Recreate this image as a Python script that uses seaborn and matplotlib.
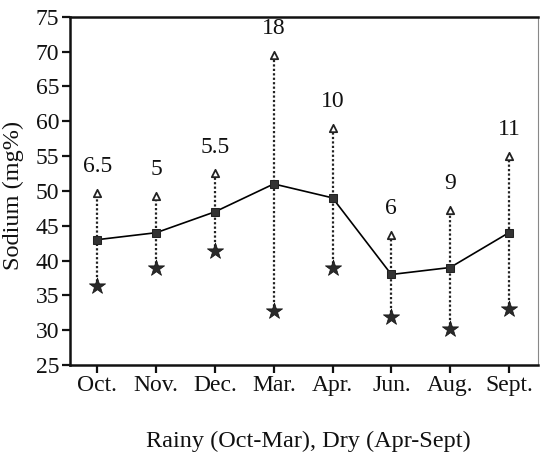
import numpy as np
import pandas as pd
import matplotlib
matplotlib.use("Agg")
import matplotlib.pyplot as plt
import seaborn as sns

months = ["Oct.", "Nov.", "Dec.", "Mar.", "Apr.", "Jun.", "Aug.", "Sept."]
mean_vals = [43, 44, 47, 51, 49, 38, 39, 44]
min_vals = [36.3, 39, 41.3, 32.8, 39, 31.9, 30.2, 33]
max_vals = [49.7, 49.3, 52.5, 69.5, 59, 43.7, 47.3, 55]
labels = ["6.5", "5", "5.5", "18", "10", "6", "9", "11"]
yticks = [25, 30, 35, 40, 45, 50, 55, 60, 65, 70, 75]

sns.set_theme(style="ticks")
plt.rcParams["font.family"] = ["Liberation Serif", "DejaVu Serif"]

df = pd.DataFrame({"pos": np.arange(len(months)), "month": months,
                   "mean": mean_vals, "lo": min_vals, "hi": max_vals})

fig = plt.figure(figsize=(5.41, 4.54), dpi=100)
ax = fig.add_axes([0.129, 0.196, 0.866, 0.767])

ax.vlines(df["pos"], df["lo"], df["hi"], colors="#222222", linestyles=(0, (1, 1)),
          linewidth=1.6, zorder=1)
sns.lineplot(data=df, x="pos", y="mean", ax=ax, color="black", linewidth=1.2,
             marker="s", markersize=6, markerfacecolor="#333333",
             markeredgecolor="#222222", zorder=3)
sns.scatterplot(data=df, x="pos", y="lo", ax=ax, marker="*", s=150,
                color="#2a2a2a", edgecolor="#111111", linewidth=0.5, zorder=4)
sns.scatterplot(data=df, x="pos", y="hi", ax=ax, marker="^", s=28,
                facecolor="white", edgecolor="#222222", linewidth=1.3, zorder=4)

for p, h, t in zip(df["pos"], df["hi"], labels):
    ax.text(p, h + 3.8, t, ha="center", va="center", fontsize=17, color="#111111")

ax.set_xlim(-0.47, 7.5)
ax.set_ylim(25, 75)
ax.set_yticks(yticks)
ax.set_xticks(df["pos"])
ax.set_xticklabels(months)
ax.tick_params(axis="both", labelsize=17, length=6, width=1.6, pad=1.5,
               colors="#111111")
ax.set_xlabel("Rainy (Oct-Mar), Dry (Apr-Sept)", fontsize=17.5, color="#111111")
ax.set_ylabel("Sodium (mg%)", fontsize=17.5, color="#111111")
ax.xaxis.set_label_coords(0.51, -0.19)
ax.yaxis.set_label_coords(-0.098, 0.486)
for s in ax.spines.values():
    s.set_linewidth(1.8)
    s.set_color("#111111")
ax.spines["right"].set_linewidth(0.8)
ax.spines["right"].set_color("#888888")

fig.savefig("out.png", dpi=100)
